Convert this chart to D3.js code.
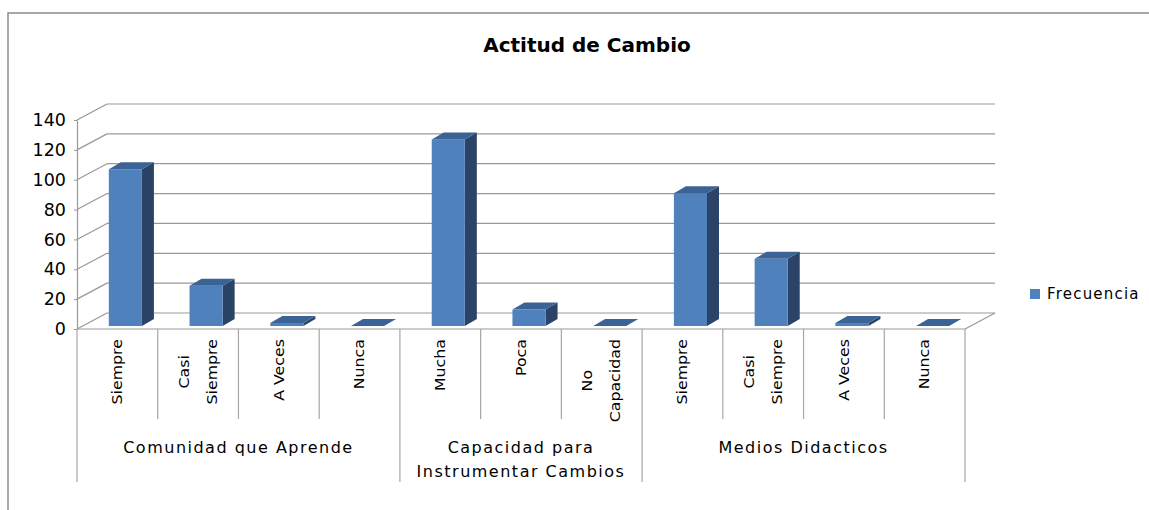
<!DOCTYPE html>
<html><head><meta charset="utf-8">
<script src="https://cdn.jsdelivr.net/npm/d3@7"></script>
<style>
html,body{margin:0;padding:0;background:#fff;}
svg{display:block;}
text{font-family:"DejaVu Sans",Verdana,sans-serif;fill:#000;}
</style></head>
<body>
<svg id="chart" width="1149" height="510"></svg>
<script>
const title = "Actitud de Cambio";
const groups = ["Comunidad que Aprende", "Capacidad para\nInstrumentar Cambios", "Medios Didacticos"];
const categories = ["Siempre","Casi\nSiempre","A Veces","Nunca","Mucha","Poca","No\nCapacidad","Siempre","Casi\nSiempre","A Veces","Nunca"];
const groupOf = [0,0,0,0,1,1,1,2,2,2,2];
const frecuencia = [105,27,2,0,125,11,0,89,45,2,0];
const yTicks = [0,20,40,60,80,100,120,140];
const seriesName = "Frecuencia";

const svg = d3.select("#chart");
const W = 1149, H = 510;

// frame
svg.append("path").attr("d", `M8,${H} L8,13 L${W},13`)
  .attr("fill","none").attr("stroke","#8c8c8c").attr("stroke-width",1.5);

// title
svg.append("text").attr("x",587).attr("y",52).attr("text-anchor","middle")
  .style("font-size","20px").style("font-weight","bold").text(title);

const x = d3.scaleBand().domain(d3.range(categories.length)).range([77,965]).padding(0);
const y = d3.scaleLinear().domain([0,140]).range([329,120]);
const back = {dx:30, dy:-16};
const grid = "#999";

// back wall gridlines
const g = svg.append("g");
g.selectAll("line.bg").data(yTicks).join("line")
  .attr("x1", 77+back.dx).attr("x2", 965+back.dx)
  .attr("y1", d=>y(d)+back.dy).attr("y2", d=>y(d)+back.dy)
  .attr("stroke",grid).attr("stroke-width",1.2);
// side wall diagonals
g.selectAll("line.sd").data(yTicks).join("line")
  .attr("x1", 77).attr("x2", 77+back.dx)
  .attr("y1", d=>y(d)).attr("y2", d=>y(d)+back.dy)
  .attr("stroke",grid).attr("stroke-width",1.2);
// floor right diagonal
g.append("line").attr("x1",965).attr("y1",y(0)).attr("x2",965+back.dx).attr("y2",y(0)+back.dy)
  .attr("stroke",grid).attr("stroke-width",1.2);

// y axis
const yAxis = d3.axisLeft(y).tickValues(yTicks).tickSize(3).tickPadding(8).tickSizeOuter(0);
const ya = svg.append("g").attr("transform","translate(77,0)").call(yAxis);
ya.select(".domain").attr("stroke",grid).attr("stroke-width",1.2);
ya.selectAll(".tick line").attr("stroke",grid);
ya.selectAll(".tick text").style("font-size","17.5px").style("font-family","'DejaVu Sans',Verdana,sans-serif").attr("fill","#000");

// x axis line
svg.append("line").attr("x1",77).attr("x2",965).attr("y1",y(0)).attr("y2",y(0))
  .attr("stroke",grid).attr("stroke-width",1.2);

// category separators
const bounds = d3.range(categories.length+1).map(i => i<categories.length ? x(i) : x.range()[1]);
svg.selectAll("line.sep").data(bounds).join("line")
  .attr("x1",d=>d).attr("x2",d=>d).attr("y1",y(0))
  .attr("y2",(d,i)=> (i===0 || i===categories.length || groupOf[i]!==groupOf[i-1]) ? 482 : 419)
  .attr("stroke","#a6a6a6").attr("stroke-width",1.2);

// bars
const front = {dx:8, dy:-3}, depth = {dx:12, dy:-7};
const bw = x.bandwidth()*0.41;
const bars = svg.append("g");
frecuencia.forEach((v,i)=>{
  const x0 = x(i) + (x.bandwidth()-bw)/2 + front.dx, x1 = x0 + bw;
  const yt = y(v) + front.dy, yb = y(0) + front.dy;
  bars.append("path").attr("d",`M${x1},${yt}L${x1+depth.dx},${yt+depth.dy}L${x1+depth.dx},${yb+depth.dy}L${x1},${yb}Z`)
    .attr("fill","#2a4366");
  bars.append("rect").attr("x",x0).attr("y",yt).attr("width",bw).attr("height",yb-yt)
    .attr("fill","#4f81bd");
  bars.append("path").attr("d",`M${x0},${yt}L${x1},${yt}L${x1+depth.dx},${yt+depth.dy}L${x0+depth.dx},${yt+depth.dy}Z`)
    .attr("fill","#3b6396");
});

// category labels (rotated)
const sx = 1.13;
const cl = svg.append("g");
categories.forEach((c,i)=>{
  const lines = c.split("\n");
  const cx = x(i) + x.bandwidth()/2;
  const t = cl.append("text").style("font-size","14px").attr("text-anchor","middle");
  lines.forEach((ln,k)=>{
    t.append("tspan").attr("x",0).attr("y",(k-(lines.length-1)/2)*28).attr("dominant-baseline","central").text(ln);
  });
  let L = 0;
  t.selectAll("tspan").each(function(){ L = Math.max(L, this.getComputedTextLength()); });
  t.attr("transform",`translate(${cx},${339+L*sx/2}) rotate(-90) scale(${sx},1)`);
});

// group labels
const gl = svg.append("g");
groups.forEach((gname,gi)=>{
  const idx = d3.range(categories.length).filter(i=>groupOf[i]===gi);
  const gx0 = x(idx[0]), gx1 = x(idx[idx.length-1]) + x.bandwidth();
  const t = gl.append("text").attr("text-anchor","middle").style("font-size","16px").style("letter-spacing","1.5px");
  gname.split("\n").forEach((ln,k)=>{
    t.append("tspan").attr("x",(gx0+gx1)/2).attr("y",453+k*24).text(ln);
  });
});

// legend
svg.append("rect").attr("x",1030).attr("y",289).attr("width",10).attr("height",10).attr("fill","#4f81bd");
svg.append("text").attr("x",1047).attr("y",299).style("font-size","15px").style("letter-spacing","1.2px").text(seriesName);
</script>
</body></html>
